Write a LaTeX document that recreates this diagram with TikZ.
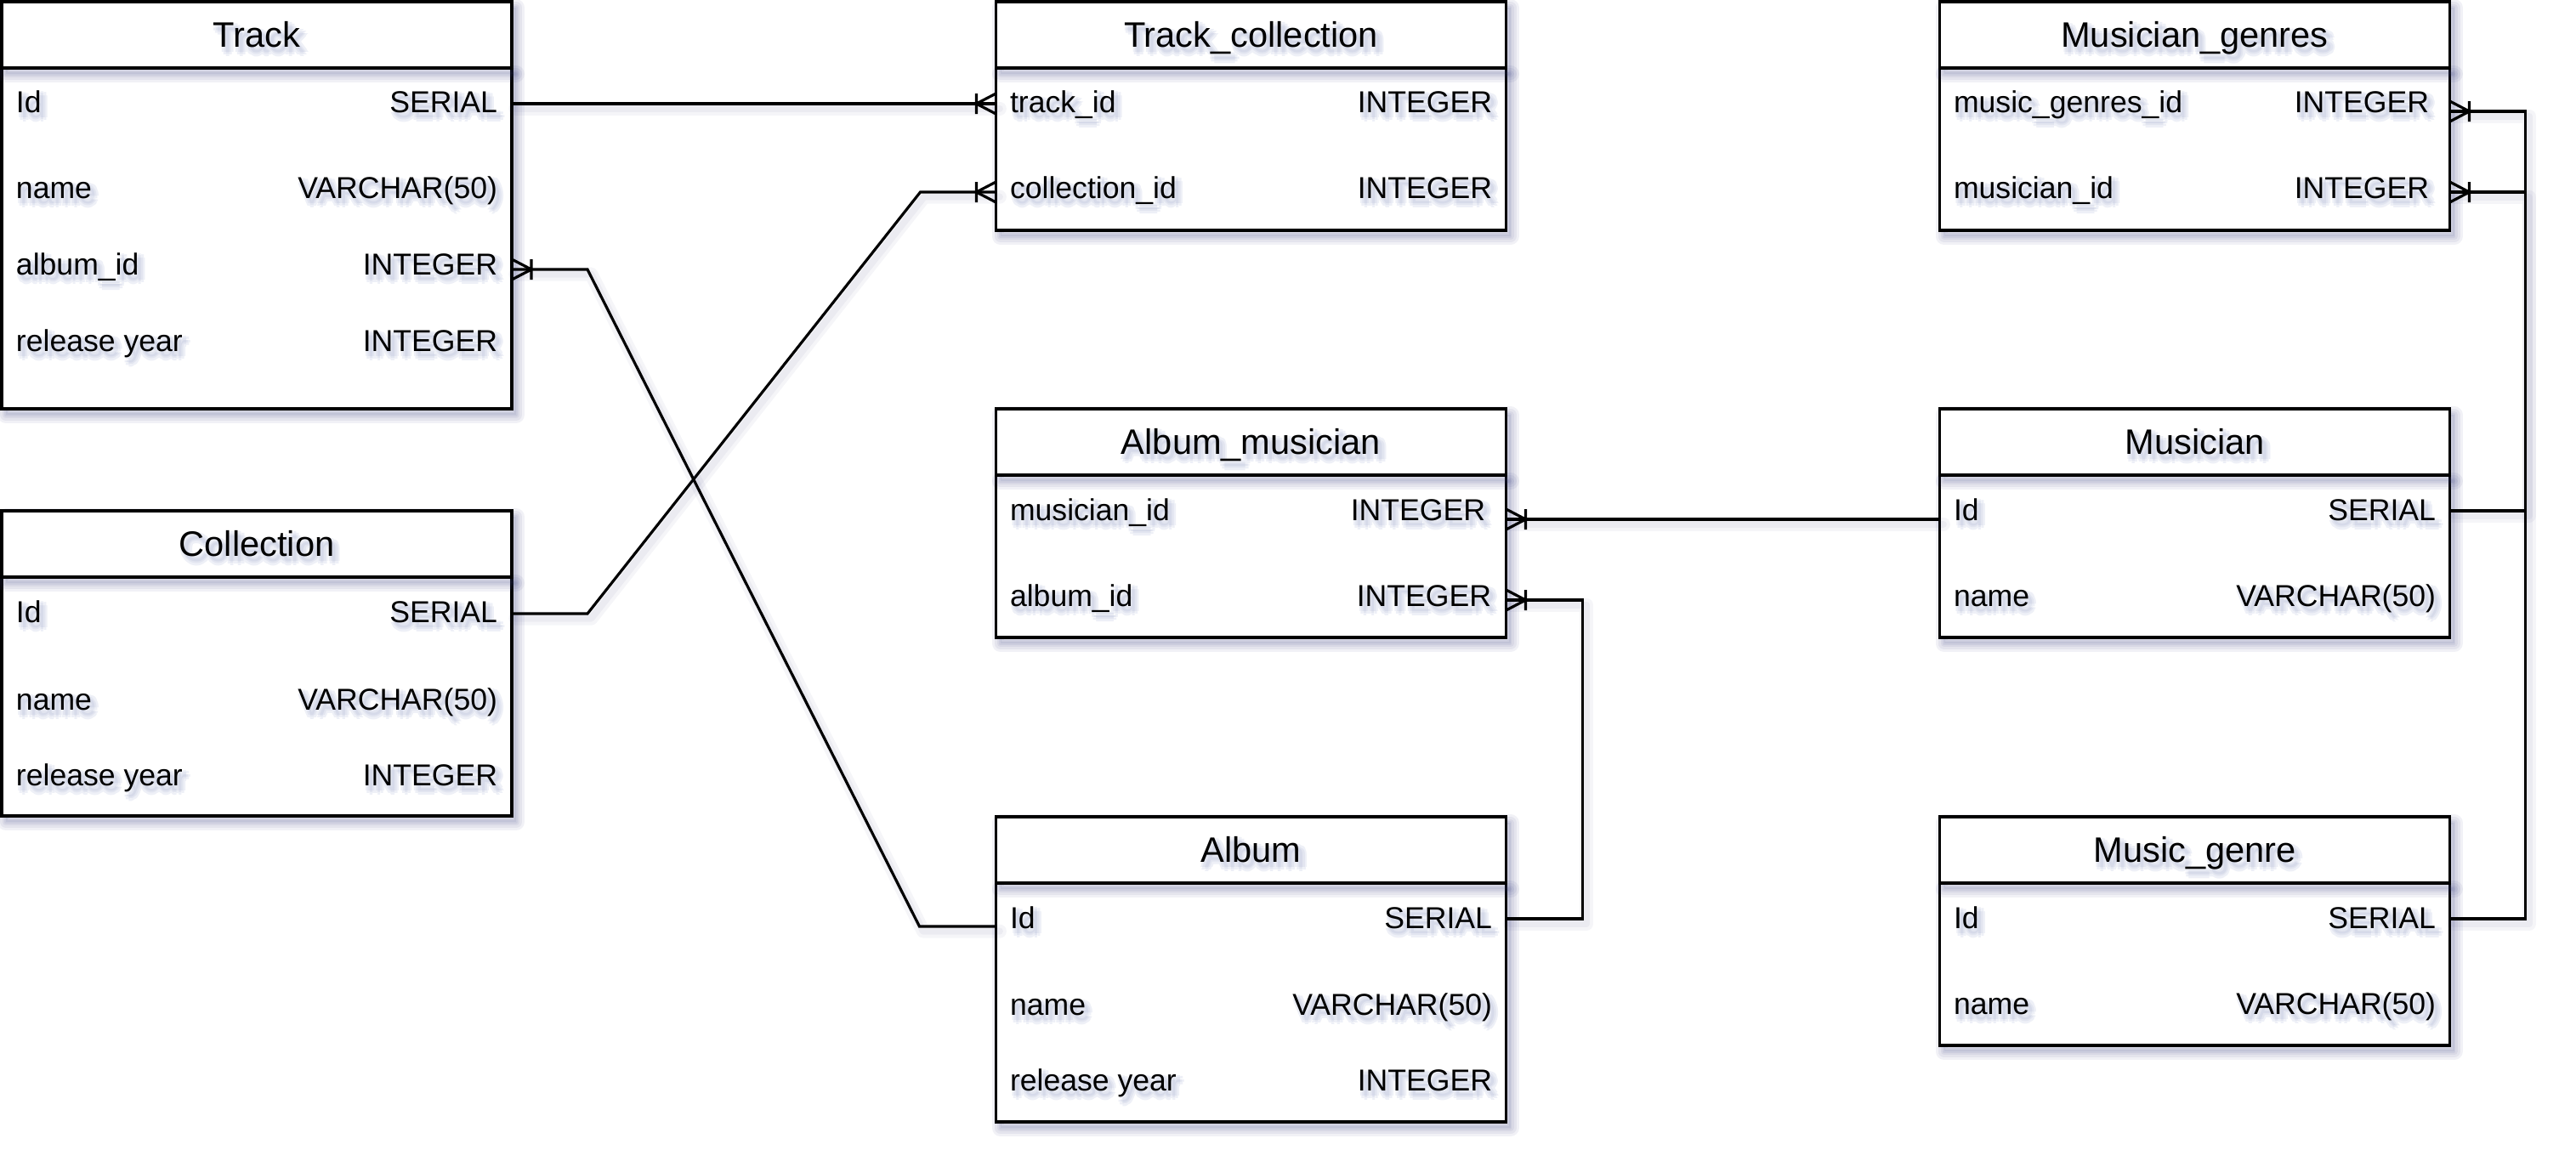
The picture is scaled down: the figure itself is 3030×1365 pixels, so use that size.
\documentclass[tikz,border=0pt]{standalone}
\usepackage{fontspec}
\setmainfont{Liberation Sans}
\usetikzlibrary{calc}
\definecolor{shadowc}{RGB}{60,66,130}
\definecolor{shA}{RGB}{238,240,247}
\definecolor{shB}{RGB}{226,229,240}
\definecolor{shC}{RGB}{214,218,233}
\newcommand\shcp[4]{\rlap{\kern#2\raisebox{#3}{\color{#1}#4}}}
\newcommand\sht[1]{\leavevmode
\shcp{shA}{2.4pt}{-1.4pt}{#1}\shcp{shA}{0pt}{-1.4pt}{#1}%
\shcp{shA}{1.2pt}{-2.6pt}{#1}\shcp{shA}{1.2pt}{-0.2pt}{#1}%
\shcp{shA}{2.05pt}{-2.25pt}{#1}\shcp{shA}{0.35pt}{-2.25pt}{#1}%
\shcp{shA}{2.05pt}{-0.55pt}{#1}\shcp{shA}{0.35pt}{-0.55pt}{#1}%
\shcp{shB}{1.8pt}{-1.4pt}{#1}\shcp{shB}{0.6pt}{-1.4pt}{#1}%
\shcp{shB}{1.2pt}{-2pt}{#1}\shcp{shB}{1.2pt}{-0.8pt}{#1}%
\shcp{shC}{1.2pt}{-1.4pt}{#1}%
#1}
\tikzset{
  shoff/.style={transform canvas={shift={(1.25pt,-1.75pt)}}},
  boxshadow/.style={
    preaction={fill=shadowc, fill opacity=0.07, shoff},
    preaction={draw=shadowc, draw opacity=0.07, line width=5pt, line join=round, shoff},
    preaction={draw=shadowc, draw opacity=0.07, line width=3.5pt, line join=round, shoff},
    preaction={draw=shadowc, draw opacity=0.07, line width=2pt, line join=round, shoff},
    preaction={draw=shadowc, draw opacity=0.07, line width=0.8pt, line join=round, shoff}},
  connshadow/.style={
    preaction={draw=shadowc, draw opacity=0.05, line width=4pt, line join=round, line cap=round, transform canvas={shift={(1.1pt,-1.4pt)}}},
    preaction={draw=shadowc, draw opacity=0.05, line width=2pt, line join=round, line cap=round, transform canvas={shift={(1.1pt,-1.4pt)}}}},
  tblbody/.style={draw, line width=0.85pt, fill=white, minimum width=150pt,
    inner sep=0pt, outer sep=0pt, anchor=north, boxshadow},
  tblhead/.style={draw, line width=0.85pt, fill=white, minimum width=150pt,
    minimum height=19.5pt, inner sep=0pt, outer sep=0pt, anchor=north,
    font=\fontsize{10.4pt}{12.5pt}\selectfont, text height=7.45pt, text depth=0pt, boxshadow},
  fname/.style={anchor=west, inner sep=0pt, outer sep=0pt,
    font=\fontsize{8.9pt}{10.7pt}\selectfont, text height=6.37pt, text depth=0pt},
  ftype/.style={fname, anchor=east},
  conn/.style={line width=0.8pt, line join=miter, connshadow},
  footline/.style={line width=0.8pt},
  footw/.pic={\draw[footline] (0,-12) -- (-23,0) -- (0,12) (-23,-12) -- (-23,12);},
  foote/.pic={\draw[footline] (0,-12) -- (23,0) -- (0,12) (23,-12) -- (23,12);}
}
% key, center x, top y, title, body height
\newcommand\tbl[5]{%
  \node[tblbody, minimum height=#5] (#1b) at (#2,#3+78) {};
  \node[tblhead] (#1h) at (#2,#3) {\sht{#4}};}
% key, left x, right x, y, name, type
\newcommand\fld[6]{%
  \node[fname] (#1n) at (#2,#4) {\sht{#5}};
  \node[ftype] (#1t) at (#3,#4) {\sht{#6}};}
\begin{document}
\begin{tikzpicture}[x=0.25pt,y=-0.25pt]
\useasboundingbox (0,0) rectangle (3030,1365);
\fill[white] (0,0) rectangle (3030,1365);

% tables
\tbl{tr}{302}{2}{Track}{100.25pt}
\tbl{co}{302}{601}{Collection}{70.25pt}
\tbl{tc}{1471.5}{2}{Track\_collection}{47.75pt}
\tbl{am}{1471.5}{481}{Album\_musician}{47.75pt}
\tbl{al}{1471.5}{961}{Album}{70.25pt}
\tbl{mg}{2581.5}{2}{Musician\_genres}{47.75pt}
\tbl{mu}{2581.5}{481}{Musician}{47.75pt}
\tbl{mge}{2581.5}{961}{Music\_genre}{47.75pt}

% fields
\fld{tr1}{19}{585}{120}{Id}{SERIAL}
\fld{tr2}{19}{585}{221}{name}{VARCHAR(50)}
\fld{tr3}{19}{585}{311}{album\_id}{INTEGER}
\fld{tr4}{19}{585}{401}{release year}{INTEGER}

\fld{co1}{19}{585}{720}{Id}{SERIAL}
\fld{co2}{19}{585}{823}{name}{VARCHAR(50)}
\fld{co3}{19}{585}{912}{release year}{INTEGER}

\fld{tc1}{1188}{1755}{120}{track\_id}{INTEGER}
\fld{tc2}{1188}{1755}{221}{collection\_id}{INTEGER}

\fld{am1}{1188}{1747}{600}{musician\_id}{INTEGER}
\fld{am2}{1188}{1754}{701}{album\_id}{INTEGER}

\fld{al1}{1188}{1755}{1080}{Id}{SERIAL}
\fld{al2}{1188}{1755}{1182}{name}{VARCHAR(50)}
\fld{al3}{1188}{1755}{1271}{release year}{INTEGER}

\fld{mg1}{2298}{2857}{120}{music\_genres\_id}{INTEGER}
\fld{mg2}{2298}{2857}{221}{musician\_id}{INTEGER}

\fld{mu1}{2298}{2865}{600}{Id}{SERIAL}
\fld{mu2}{2298}{2865}{701}{name}{VARCHAR(50)}

\fld{mge1}{2298}{2865}{1080}{Id}{SERIAL}
\fld{mge2}{2298}{2865}{1181}{name}{VARCHAR(50)}

% connectors
\draw[conn] ($(trb.east |- tr1t)+(0,2)$) -- ($(tcb.west |- tc1t)+(0,2)$);
\pic at ($(tcb.west |- tc1t)+(0,2)$) {footw};

\draw[conn] ($(cob.east |- co1t)+(0,2)$) -- ++(89,0)
  -- ($(tcb.west |- tc2t)+(-89,5)$) -- ($(tcb.west |- tc2t)+(0,5)$);
\pic at ($(tcb.west |- tc2t)+(0,5)$) {footw};

\draw[conn] ($(trb.east |- tr3t)+(0,6)$) -- ++(89,0)
  -- ($(alb.west |- al1n)+(-90,10)$) -- ($(alb.west |- al1n)+(0,10)$);
\pic at ($(trb.east |- tr3t)+(0,6)$) {foote};

\draw[conn] ($(mub.west |- mu1n)+(0,11)$) -- ($(amb.east |- am1t)+(0,11)$);
\pic at ($(amb.east |- am1t)+(0,11)$) {foote};

\draw[conn] ($(alb.east |- al1t)+(0,1)$) -- ++(90,0) |- ($(amb.east |- am2t)+(0,5)$);
\pic at ($(amb.east |- am2t)+(0,5)$) {foote};

\draw[conn] ($(mub.east |- mu1t)+(0,1)$) -- ++(89,0) |- ($(mgb.east |- mg2t)+(0,5)$);
\pic at ($(mgb.east |- mg2t)+(0,5)$) {foote};

\draw[conn] ($(mgeb.east |- mge1t)+(0,1)$) -- ++(89,0) |- ($(mgb.east |- mg1t)+(0,11)$);
\pic at ($(mgb.east |- mg1t)+(0,11)$) {foote};
\end{tikzpicture}
\end{document}
